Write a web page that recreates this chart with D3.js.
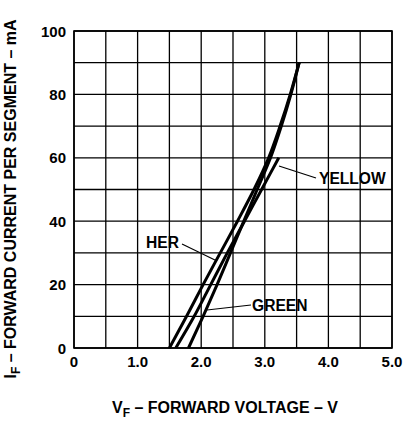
<!DOCTYPE html>
<html>
<head>
<meta charset="utf-8">
<script src="https://cdn.jsdelivr.net/npm/d3@7"></script>
<style>
  body { margin: 0; background: #fff; }
  svg text { font-family: "Liberation Sans", Arial, sans-serif; font-weight: bold; fill: #000; }
</style>
</head>
<body>
<svg id="chart" width="404" height="421"></svg>
<script>
// forward current (mA) vs forward voltage (V)
const currents = [0, 10, 20, 30, 40, 50, 60, 70, 80, 90];
const herV = [1.5, 1.77, 2.03, 2.3, 2.57, 2.83, 3.06, 3.24, 3.4, 3.54];
const greenV = [1.8, 2.03, 2.25, 2.46, 2.67, 2.88, 3.09, 3.26, 3.41, 3.54];
const yellowCurrents = [0, 10, 20, 30, 40, 50, 60];
const yellowV = [1.6, 1.89, 2.15, 2.41, 2.68, 2.95, 3.22];

const xTicks = [0, 1, 2, 3, 4, 5];
const yTicks = [0, 20, 40, 60, 80, 100];

const svg = d3.select("#chart");
const x = d3.scaleLinear().domain([0, 5]).range([74, 392]);
const y = d3.scaleLinear().domain([0, 100]).range([348, 31]);

// grid
const grid = svg.append("g").attr("stroke", "#000").attr("stroke-width", 1.3);
grid.selectAll("line.v").data(d3.range(0, 5.01, 0.5)).enter().append("line")
  .attr("x1", d => x(d)).attr("x2", d => x(d))
  .attr("y1", y(0)).attr("y2", y(100));
grid.selectAll("line.h").data(d3.range(0, 101, 10)).enter().append("line")
  .attr("y1", d => y(d)).attr("y2", d => y(d))
  .attr("x1", x(0)).attr("x2", x(5));
svg.append("rect")
  .attr("x", x(0)).attr("y", y(100))
  .attr("width", x(5) - x(0)).attr("height", y(0) - y(100))
  .attr("fill", "none").attr("stroke", "#000").attr("stroke-width", 1.6);

// tick labels
svg.selectAll("text.xt").data(xTicks).enter().append("text")
  .attr("x", d => x(d)).attr("y", 367)
  .attr("text-anchor", "middle").attr("font-size", 15)
  .text(d => d === 0 ? "0" : d.toFixed(1));
svg.selectAll("text.yt").data(yTicks).enter().append("text")
  .attr("x", 66).attr("y", d => y(d) + 5.5)
  .attr("text-anchor", "end").attr("font-size", 15)
  .text(d => d);

// curves
const line = d3.line()
  .x(d => x(d[0])).y(d => y(d[1]))
  .curve(d3.curveMonotoneY);
const series = [
  d3.zip(herV, currents),
  d3.zip(greenV, currents),
  d3.zip(yellowV, yellowCurrents)
];
svg.selectAll("path.curve").data(series).enter().append("path")
  .attr("d", line)
  .attr("fill", "none").attr("stroke", "#000").attr("stroke-width", 3);

// labels with leaders
const labels = [
  { text: "HER", tx: 146, ty: 248, lx1: 182, ly1: 244, lx2: 217, ly2: 261 },
  { text: "GREEN", tx: 252, ty: 311, lx1: 251, ly1: 305, lx2: 207, ly2: 310 },
  { text: "YELLOW", tx: 319, ty: 184, lx1: 316, ly1: 178, lx2: 279, ly2: 166 }
];
svg.selectAll("line.lead").data(labels).enter().append("line")
  .attr("x1", d => d.lx1).attr("y1", d => d.ly1)
  .attr("x2", d => d.lx2).attr("y2", d => d.ly2)
  .attr("stroke", "#000").attr("stroke-width", 1.2);
svg.selectAll("text.lab").data(labels).enter().append("text")
  .attr("x", d => d.tx).attr("y", d => d.ty)
  .attr("font-size", 15.6)
  .text(d => d.text);

// axis titles
const xt = svg.append("text")
  .attr("x", 225).attr("y", 413)
  .attr("text-anchor", "middle").attr("font-size", 16);
xt.append("tspan").text("V");
xt.append("tspan").attr("font-size", 12).attr("dy", 4).text("F");
xt.append("tspan").attr("dy", -4).text(" – FORWARD VOLTAGE – V");

const yt = svg.append("text")
  .attr("transform", "translate(16,199) rotate(-90)")
  .attr("text-anchor", "middle").attr("font-size", 16);
yt.append("tspan").text("I");
yt.append("tspan").attr("font-size", 12).attr("dy", 4).text("F");
yt.append("tspan").attr("dy", -4).text(" – FORWARD CURRENT PER SEGMENT – mA");
</script>
</body>
</html>
